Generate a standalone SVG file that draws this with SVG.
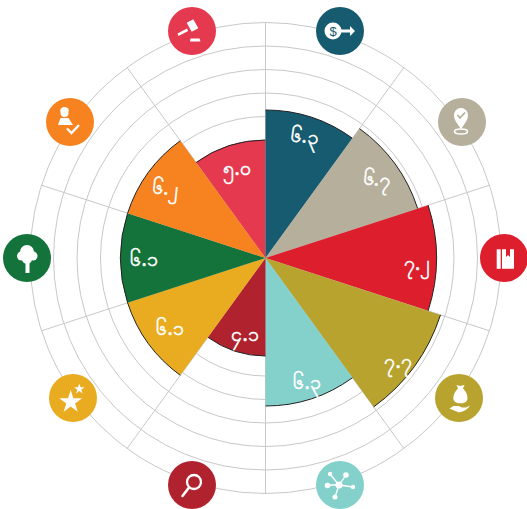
<svg xmlns="http://www.w3.org/2000/svg" width="527" height="509" viewBox="0 0 527 509">
<style>
.ring{fill:none;stroke:#c8c8c8;stroke-width:1}
.spoke{stroke:#c8c8c8;stroke-width:1}
.edge{fill:none;stroke:#222;stroke-width:1}
.val{font-family:"Noto Sans","DejaVu Sans",sans-serif;font-size:19.5px;fill:#fff;stroke:#fff;stroke-width:.6;text-anchor:middle;dominant-baseline:central}
.w{fill:#fff}
</style>
<defs><polygon id="star" points="0,-12 2.7,-3.7 11.4,-3.7 4.4,1.4 7.05,9.7 0,4.6 -7.05,9.7 -4.4,1.4 -11.4,-3.7 -2.7,-3.7"/></defs>
<rect width="527" height="509" fill="#fff"/>
<g id="connectors">
<circle class="ring" cx="265.5" cy="258" r="118"/><circle class="ring" cx="265.5" cy="258" r="141.5"/><circle class="ring" cx="265.5" cy="258" r="165"/><circle class="ring" cx="265.5" cy="258" r="188.5"/><circle class="ring" cx="265.5" cy="258" r="212"/><circle class="ring" cx="265.5" cy="258" r="235.5"/>
<line class="spoke" x1="265.5" y1="22.5" x2="265.5" y2="493.5"/>
<line class="spoke" x1="127.1" y1="67.5" x2="403.9" y2="448.5"/>
<line class="spoke" x1="41.5" y1="185.2" x2="489.5" y2="330.8"/>
<line class="spoke" x1="41.5" y1="330.8" x2="489.5" y2="185.2"/>
<line class="spoke" x1="127.1" y1="448.5" x2="403.9" y2="67.5"/>
</g>
<g id="wedge-crimson"><path d="M265.5 258L196.1 162.5A118 118 0 0 1 265.5 140Z" fill="#e5394f"/><path class="edge" d="M196.1 162.5A118 118 0 0 1 265.5 140"/><text class="val" x="237" y="167">၅.၀</text></g>
<g id="wedge-blue"><path d="M265.5 258V110A148 148 0 0 1 352.5 138.3Z" fill="#175b70"/><path class="edge" d="M265.5 110A148 148 0 0 1 352.5 138.3"/><text class="val" x="305" y="135" transform="rotate(8 305 135)">၆.၃</text></g>
<g id="wedge-beige"><path d="M265.5 258L359.5 128.6A160 160 0 0 1 417.7 208.6Z" fill="#b5af9c"/><path class="edge" d="M359.5 128.6A160 160 0 0 1 417.7 208.6"/><text class="val" x="377" y="178" transform="rotate(6 377 178)">၆.၇</text></g>
<g id="wedge-red"><path d="M265.5 258L428.1 205.2A171 171 0 0 1 428.1 310.8Z" fill="#dd1f2d"/><path class="edge" d="M428.1 205.2A171 171 0 0 1 428.1 310.8"/><text class="val" x="417" y="262">၇.၂</text></g>
<g id="wedge-olive"><path d="M265.5 258L440.5 314.9A184 184 0 0 1 373.7 406.9Z" fill="#b8a32f"/><path class="edge" d="M440.5 314.9A184 184 0 0 1 373.7 406.9"/><text class="val" x="398" y="360">၇.၇</text></g>
<g id="wedge-teal"><path d="M265.5 258L352.5 377.7A148 148 0 0 1 265.5 406Z" fill="#84d0cb"/><path class="edge" d="M352.5 377.7A148 148 0 0 1 265.5 406"/><text class="val" x="307" y="381">၆.၃</text></g>
<g id="wedge-darkred"><path d="M265.5 258V356A98 98 0 0 1 207.9 337.3Z" fill="#b0232e"/><path class="edge" d="M265.5 356A98 98 0 0 1 207.9 337.3"/><text class="val" x="245" y="333">၄.၁</text></g>
<g id="wedge-yellow"><path d="M265.5 258L180.3 375.3A145 145 0 0 1 127.6 302.8Z" fill="#e9ab1f"/><path class="edge" d="M180.3 375.3A145 145 0 0 1 127.6 302.8"/><text class="val" x="170" y="327">၆.၁</text></g>
<g id="wedge-green"><path d="M265.5 258L127.6 302.8A145 145 0 0 1 127.6 213.2Z" fill="#14733a"/><path class="edge" d="M127.6 302.8A145 145 0 0 1 127.6 213.2"/><text class="val" x="144" y="258">၆.၁</text></g>
<g id="wedge-orange"><path d="M265.5 258L127.6 213.2A145 145 0 0 1 180.3 140.7Z" fill="#f68220"/><path class="edge" d="M127.6 213.2A145 145 0 0 1 180.3 140.7"/><text class="val" x="166" y="187" transform="rotate(6 166 187)">၆.၂</text></g>
<g id="icon-gavel"><circle cx="192" cy="31" r="24" fill="#e5394f"/><path class="w" d="M177.500 33.500L187 28.500L188.200 31L178.500 36Z"/><path class="w" d="M186.700 22.700L193.300 19.300L198.300 28.300L191.700 31.700Z"/><path class="w" d="M190.500 38.500H199.500L200.500 41.500H190Z"/></g>
<g id="icon-dollar"><circle cx="340" cy="31" r="24" fill="#175b70"/><circle class="w" cx="333" cy="31" r="8.500"/><path class="w" d="M340 29.500H350V26L355 31L350 36V32.500H340Z"/><text x="333" y="36" font-family="Liberation Sans,sans-serif" font-size="13" fill="#175b70" text-anchor="middle">$</text></g>
<g id="icon-pin"><circle cx="462" cy="122" r="24" fill="#b5af9c"/><path class="w" d="M461 129C457 123 454 120 454 115A7 7 0 0 1 468 115C468 120 465 123 461 129Z"/><path d="M457.500 115L460 118L465 112.500" fill="none" stroke="#b5af9c" stroke-width="1.800"/><ellipse cx="461" cy="131.500" rx="6.500" ry="2.500" fill="none" stroke="#fff" stroke-width="1.500"/></g>
<g id="icon-book"><circle cx="504" cy="258" r="24" fill="#dd1f2d"/><rect class="w" x="496.700" y="249.300" width="4" height="19.500"/><path class="w" d="M502 249.300H506V257L508 255L510 257V249.300H514V268.800H502Z"/></g>
<g id="icon-sack"><circle cx="459" cy="398" r="24" fill="#b8a32f"/><path class="w" d="M456.500 385L460 386L464.500 385L463 388.500C465.500 391 467.500 394 467.500 398C467.500 401.500 465 403.300 460.500 403.300C456 403.300 453.300 401.500 453.300 398C453.300 394 455.500 391 458 388.500Z"/><path class="w" d="M449.500 408.500L453.500 406H458.500L462 407.500H466L470 405.500C468 409 464 411.500 459 412.500L454 410.500Z"/></g>
<g id="icon-network"><circle cx="340" cy="485" r="24" fill="#84d0cb"/><path d="M339 485L330 474M339 485L346 475M339 485L327 485M339 485L353 487M339 485L335 497" stroke="#fff" stroke-width="1.300"/><circle class="w" cx="339" cy="485" r="3.500"/><circle class="w" cx="330" cy="474" r="2.200"/><circle class="w" cx="346" cy="475" r="2.800"/><circle class="w" cx="327.500" cy="485.500" r="2.800"/><circle class="w" cx="353" cy="487" r="2.200"/><circle class="w" cx="335" cy="497" r="2.500"/></g>
<g id="icon-search"><circle cx="192" cy="485" r="24" fill="#b0232e"/><circle cx="194" cy="482" r="7" fill="none" stroke="#fff" stroke-width="2.300"/><line x1="189" y1="487.500" x2="182.500" y2="496" stroke="#fff" stroke-width="2.600" stroke-linecap="round"/></g>
<g id="icon-star"><circle cx="73" cy="398" r="24" fill="#e9ab1f"/><use href="#star" class="w" transform="translate(70.700 402)"/><use href="#star" class="w" transform="translate(79.300 389) scale(.46)"/></g>
<g id="icon-tree"><circle cx="27" cy="258" r="24" fill="#14733a"/><rect class="w" x="25.500" y="258" width="4" height="15"/><circle class="w" cx="27" cy="252" r="7"/><circle class="w" cx="21.500" cy="256" r="4.500"/><circle class="w" cx="33" cy="256" r="4.500"/><circle class="w" cx="27" cy="259" r="5"/></g>
<g id="icon-worker"><circle cx="70" cy="122" r="24" fill="#f68220"/><circle class="w" cx="64.500" cy="113" r="4"/><path class="w" d="M60 111.500A4.500 4.500 0 0 1 69 111.500Z"/><path class="w" d="M60.500 118H68.500L73 125H58Z"/><path d="M67 128.500L71.500 133L79 125" fill="none" stroke="#fff" stroke-width="2.300"/></g>
</svg>
